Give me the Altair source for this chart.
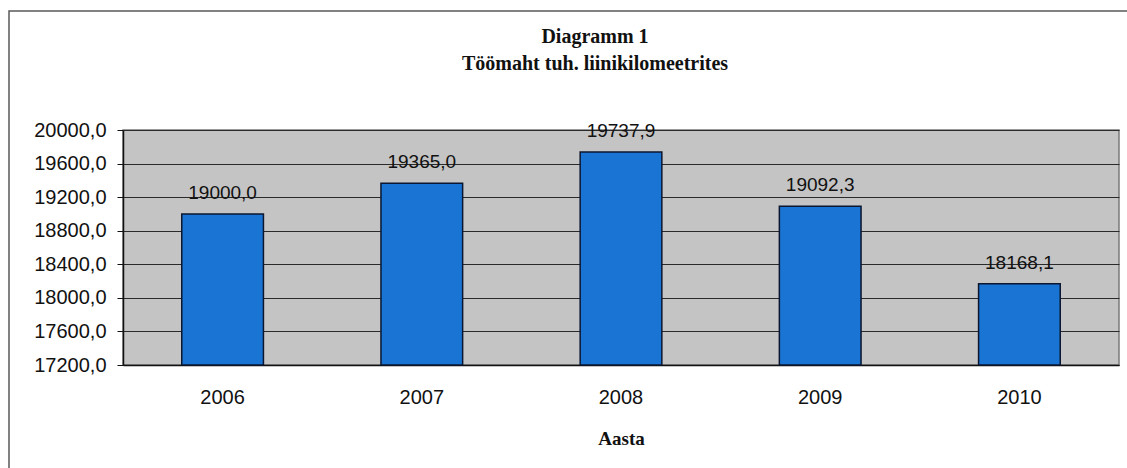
import altair as alt
import pandas as pd

# Workload per year, thousand line-kilometres
years = ["2006", "2007", "2008", "2009", "2010"]
volumes = [19000.0, 19365.0, 19737.9, 19092.3, 18168.1]
y_ticks = [17200, 17600, 18000, 18400, 18800, 19200, 19600, 20000]
title_lines = ["Diagramm 1", "Töömaht tuh. liinikilomeetrites"]
x_title = "Aasta"

df = pd.DataFrame({"Aasta": years, "Maht": volumes})

comma_fmt = "replace(format({v}, '.1f'), '.', ',')"

base = alt.Chart(df)

x_axis = alt.Axis(
    title=x_title,
    labelAngle=0,
    ticks=False,
    labelPadding=22,
    labelFont="Liberation Sans",
    labelFontSize=20,
    labelColor="#111111",
    titleFont="Liberation Serif",
    titleFontWeight="bold",
    titleFontSize=19,
    titleColor="#111111",
    titlePadding=22,
    domainColor="#111111",
    domainWidth=1.5,
)

y_axis = alt.Axis(
    title=None,
    values=y_ticks,
    tickCount=len(y_ticks),
    labelExpr=comma_fmt.format(v="datum.value"),
    labelFont="Liberation Sans",
    labelFontSize=20,
    labelColor="#111111",
    labelPadding=11,
    labelOverlap=False,
    labelBound=False,
    labelFlush=False,
    tickSize=6,
    tickColor="#111111",
    domainColor="#111111",
    domainWidth=1.5,
    grid=True,
    gridColor="#2a2a2a",
    gridWidth=1,
)

x_scale = alt.Scale(paddingInner=0.59, paddingOuter=0.295)
y_scale = alt.Scale(domain=[y_ticks[0], y_ticks[-1]], nice=False, zero=False)

bars = base.mark_bar(
    color="#1a74d3", stroke="#0b1630", strokeWidth=1.5
).encode(
    x=alt.X("Aasta:N", sort=years, scale=x_scale, axis=x_axis),
    y=alt.Y("Maht:Q", scale=y_scale, axis=y_axis),
    y2=alt.datum(y_ticks[0]),
)

labels = base.transform_calculate(
    lab=comma_fmt.format(v="datum.Maht")
).mark_text(
    baseline="alphabetic",
    dy=-15,
    font="Liberation Sans",
    fontSize=19,
    color="#111111",
).encode(
    x=alt.X("Aasta:N", sort=years, scale=x_scale, axis=x_axis),
    y=alt.Y("Maht:Q", scale=y_scale, axis=y_axis),
    text="lab:N",
)

one = alt.Data(values=[{}])

title1 = alt.Chart(one).mark_text(
    font="Liberation Serif", fontWeight="bold", fontSize=20,
    color="#111111", baseline="middle", align="center",
).encode(x=alt.value(472), y=alt.value(-93), text=alt.value(title_lines[0]))

title2 = alt.Chart(one).mark_text(
    font="Liberation Serif", fontWeight="bold", fontSize=20,
    color="#111111", baseline="middle", align="center",
).encode(x=alt.value(472), y=alt.value(-66), text=alt.value(title_lines[1]))

frame = alt.Chart(one).mark_rect(
    fillOpacity=0, stroke="#5a5a5a", strokeWidth=1.5
).encode(
    x=alt.value(-114), x2=alt.value(1030),
    y=alt.value(-119), y2=alt.value(360),
)

chart = alt.layer(frame, bars, labels, title1, title2).properties(
    width=996,
    height=235,
    autosize=alt.AutoSizeParams(type="none"),
    padding={"left": 123, "top": 130, "right": 8, "bottom": 103},
    background="white",
).configure_view(
    fill="#c4c4c4", stroke="#7a7a7a", strokeWidth=1.5
)

chart.save("out.html", embed_options={"renderer": "svg", "actions": False})
